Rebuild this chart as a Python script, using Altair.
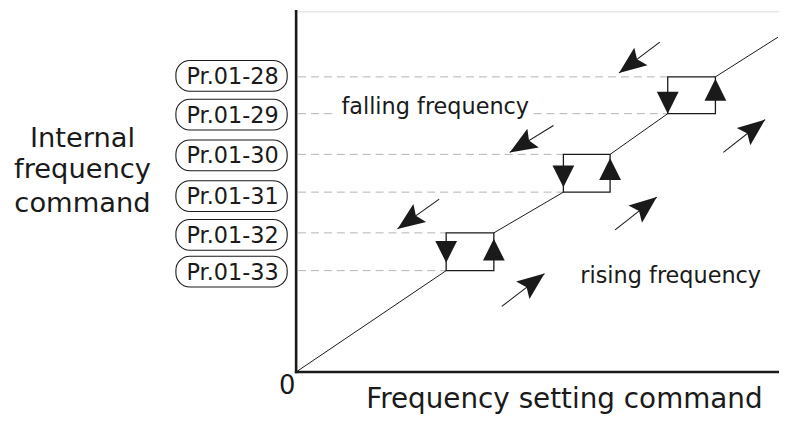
import math
import altair as alt
import pandas as pd

FONT = "DejaVu Sans"
INK = "#1a1a1a"

# ---- data (diagram units: x = frequency setting, y = internal frequency) ----
LEVEL_NAMES = ["Pr.01-28", "Pr.01-29", "Pr.01-30", "Pr.01-31", "Pr.01-32", "Pr.01-33"]
LEVEL_Y = [297, 260, 219, 181, 140, 102]
LABEL_Y = [298, 259, 218, 177, 138, 101]
LEVEL_END_X = [374, 374, 269, 269, 151, 151]

# hysteresis boxes (left/right x, bottom/top y)
BOX_X0 = [151, 269, 374]
BOX_X1 = [199, 316, 422]
BOX_Y0 = [102, 181, 260]
BOX_Y1 = [140, 219, 297]
LINE_END = (485, 337)

# arrow heads inside boxes
DOWN_TIP_Y = [110, 186, 260]
UP_TIP_Y = [134, 215, 295]

# free arrows
FALL_X0 = [366, 259, 144]
FALL_Y0 = [332, 248, 174]
FALL_X1 = [325, 215, 102]
FALL_Y1 = [301, 221, 144]
RISE_X0 = [207, 321, 430]
RISE_Y0 = [66, 143, 221]
RISE_X1 = [250, 363, 472]
RISE_Y1 = [99, 176, 254]

# gap in the Pr.01-29 dashed line behind the "falling frequency" label
GAP_X = (41, 239)

W, H = 486, 363
xs = alt.Scale(domain=[0, W], nice=False, zero=False)
ys = alt.Scale(domain=[0, H], nice=False, zero=False)


def seg_df(x0, y0, x1, y1):
    return pd.DataFrame({"x": x0, "y": y0, "x2": x1, "y2": y1})


def seg_layer(df, **mk):
    return alt.Chart(df).mark_rule(**mk).encode(
        x=alt.X("x:Q", scale=xs, axis=None),
        y=alt.Y("y:Q", scale=ys, axis=None),
        x2="x2:Q",
        y2="y2:Q",
    )


# axes
axes_df = seg_df([0, 0], [0, 0], [0, W], [H, 0])
axes = seg_layer(axes_df, color=INK, strokeWidth=2.6, strokeCap="square")

# dashed level lines
dx0, dy0, dx1, dy1 = [], [], [], []
for name, y, xe in zip(LEVEL_NAMES, LEVEL_Y, LEVEL_END_X):
    if name == "Pr.01-29":
        dx0 += [2, GAP_X[1]]; dx1 += [GAP_X[0], xe]; dy0 += [y, y]; dy1 += [y, y]
    else:
        dx0.append(2); dx1.append(xe); dy0.append(y); dy1.append(y)
dashes = seg_layer(seg_df(dx0, dy0, dx1, dy1), color="#b4b4b4", strokeWidth=1,
                   strokeDash=[8, 5])

# diagonal characteristic
px = [0] + BOX_X1
py = [0] + BOX_Y1
qx = BOX_X0 + [LINE_END[0]]
qy = BOX_Y0 + [LINE_END[1]]
diag = seg_layer(seg_df(px, py, qx, qy), color=INK, strokeWidth=1)

# boxes
box_df = pd.DataFrame({"x": BOX_X0, "x2": BOX_X1, "y": BOX_Y0, "y2": BOX_Y1})
boxes = alt.Chart(box_df).mark_rect(fill=None, stroke=INK, strokeWidth=1.3).encode(
    x=alt.X("x:Q", scale=xs, axis=None), x2="x2:Q",
    y=alt.Y("y:Q", scale=ys, axis=None), y2="y2:Q",
)

# triangle arrow heads on box edges
TRI = "M0,0 L1,2 L-1,2 Z"
tri_df = pd.DataFrame({
    "x": BOX_X0 + BOX_X1,
    "y": DOWN_TIP_Y + UP_TIP_Y,
    "ang": [180] * 3 + [0] * 3,
})
tris = alt.Chart(tri_df).mark_point(shape=TRI, filled=True, fill=INK, opacity=1,
                                    strokeWidth=0, size=480).encode(
    x=alt.X("x:Q", scale=xs, axis=None),
    y=alt.Y("y:Q", scale=ys, axis=None),
    angle=alt.Angle("ang:Q", scale=None),
)

# free arrows
ax0 = FALL_X0 + RISE_X0
ay0 = FALL_Y0 + RISE_Y0
ax1 = FALL_X1 + RISE_X1
ay1 = FALL_Y1 + RISE_Y1
shafts = seg_layer(seg_df(ax0, ay0, ax1, ay1), color=INK, strokeWidth=1.1)
angs = [(math.degrees(math.atan2(b - a, d - c)) + 360) % 360
        for a, b, c, d in zip(ax0, ax1, ay0, ay1)]
head_df = pd.DataFrame({"x": ax1, "y": ay1, "ang": angs})
HEAD = "M0,0 L0.8,2 L0,1.65 L-0.8,2 Z"
heads = alt.Chart(head_df).mark_point(shape=HEAD, filled=True, fill=INK, opacity=1,
                                      strokeWidth=0, size=760).encode(
    x=alt.X("x:Q", scale=xs, axis=None),
    y=alt.Y("y:Q", scale=ys, axis=None),
    angle=alt.Angle("ang:Q", scale=None),
)

# Pr labels in rounded boxes
lab_df = pd.DataFrame({"name": LEVEL_NAMES, "y": LABEL_Y})
lab_df["y0"] = lab_df["y"] - 15.5
lab_df["y1"] = lab_df["y"] + 15.5
lab_df["x0"] = -121
lab_df["x1"] = -9
lab_df["xc"] = -64
pills = alt.Chart(lab_df).mark_rect(fill="white", stroke=INK, strokeWidth=1.1,
                                    cornerRadius=14).encode(
    x=alt.X("x0:Q", scale=xs, axis=None), x2="x1:Q",
    y=alt.Y("y0:Q", scale=ys, axis=None), y2="y1:Q",
)
pill_text = alt.Chart(lab_df).mark_text(font=FONT, fontSize=22.5, color=INK,
                                        baseline="middle", align="center", dy=1).encode(
    x=alt.X("xc:Q", scale=xs, axis=None),
    y=alt.Y("y:Q", scale=ys, axis=None),
    text="name:N",
)

# other text
TEXTS = ["Internal", "frequency", "command", "0", "Frequency setting command",
         "falling frequency", "rising frequency"]
TEXT_X = [-215, -215, -215, -9, 270, 140, 377]
TEXT_Y = [226, 195, 161, -22, -36, 260, 90]
TEXT_SIZE = [27.5, 27.5, 27.5, 26, 28, 22.5, 22.5]
txt_df = pd.DataFrame({"t": TEXTS, "x": TEXT_X, "y": TEXT_Y, "s": TEXT_SIZE})
texts = alt.Chart(txt_df).mark_text(font=FONT, color=INK, baseline="alphabetic",
                                    align="center").encode(
    x=alt.X("x:Q", scale=xs, axis=None),
    y=alt.Y("y:Q", scale=ys, axis=None),
    text="t:N",
    size=alt.Size("s:Q", scale=None, legend=None),
)

chart = alt.layer(
    dashes, diag, boxes, tris, shafts, heads, pills, pill_text, texts, axes
).properties(
    width=W, height=H,
    padding={"left": 290, "top": 2, "right": 0, "bottom": 44},
    autosize=alt.AutoSizeParams(type="none"),
).configure_view(stroke=None).configure(background="white")

chart.save("out.html", embed_options={"renderer": "svg", "actions": False})
